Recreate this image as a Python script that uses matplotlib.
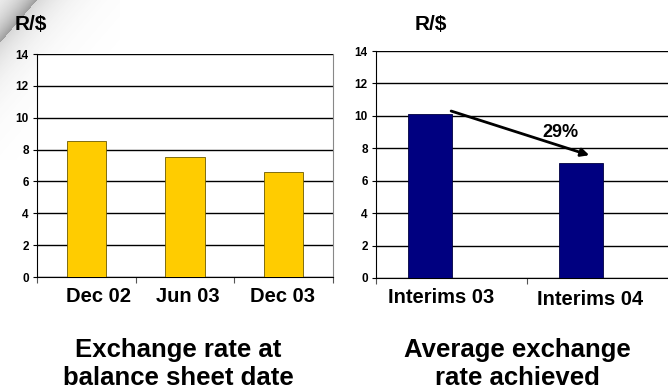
import numpy as np
import matplotlib
matplotlib.use("Agg")
import matplotlib.pyplot as plt

plt.rcParams['font.family'] = ['Liberation Sans', 'DejaVu Sans']
plt.rcParams['font.weight'] = 'bold'

# ---------------------------------------------------------------- data
balance_dates = ['Dec 02', 'Jun 03', 'Dec 03']
balance_rates = [8.56, 7.51, 6.61]

interim_periods = ['Interims 03', 'Interims 04']
interim_rates = [10.1, 7.09]
interim_change = '29%'

yticks = [0, 2, 4, 6, 8, 10, 12, 14]

YELLOW = '#FFCC00'
NAVY = '#000080'

fig = plt.figure(figsize=(6.68, 3.90), dpi=100)

# ---------------------------------------------------------------- page curl shading, top-left corner
bg = fig.add_axes([0, 0, 1, 1], zorder=-10)
gx, gy = np.meshgrid(np.arange(0, 120) + 0.5, np.arange(0, 160) + 0.5)
d = (gx * 43 + gy * 37 - 37 * 43) / np.hypot(43, 37)
shade = np.where(d < 0, 0.55 * np.exp(d / 18.0), 0.22 * np.exp(-d / 22.0))
img = np.ones((160, 120, 4))
img[..., :3] = 0.3
img[..., 3] = np.clip(shade, 0, 1)
bg.imshow(img, extent=(0, 120, 160, 0), interpolation='bilinear', aspect='auto')
bg.set_xlim(0, 668)
bg.set_ylim(390, 0)
bg.axis('off')


def style_axes(ax):
    ax.set_ylim(0, 14)
    ax.set_yticks(yticks)
    ax.set_yticklabels([str(v) for v in yticks], fontsize=8.5, fontweight='bold')
    ax.yaxis.grid(True, color='black', lw=1.0)
    ax.set_axisbelow(True)
    ax.tick_params(axis='y', length=3, width=0.8, pad=3)
    ax.tick_params(axis='x', which='major', length=4, width=0.8, color='#555555', labelbottom=False)
    ax.tick_params(axis='x', which='minor', length=0, pad=7, labelsize=14.5)
    ax.spines['top'].set_visible(False)
    ax.spines['left'].set_color('black')
    ax.spines['bottom'].set_color('black')
    for lab in ax.get_xticklabels(minor=True):
        lab.set_fontweight('bold')


# ---------------------------------------------------------------- left: exchange rate at balance sheet date
ax1 = fig.add_axes([37 / 668, 1 - 277 / 390, 296 / 668, 223 / 390])
x1 = np.arange(len(balance_dates)) + 0.5
ax1.bar(x1, balance_rates, width=0.4, color=YELLOW, edgecolor='#6b5a00', lw=0.6, zorder=3)
ax1.set_xlim(0, 3)
ax1.set_xticks([0, 1, 2, 3])
ax1.set_xticks(x1 + np.array([0.12, 0.03, -0.01]), minor=True)
ax1.set_xticklabels(balance_dates, minor=True)
style_axes(ax1)
ax1.spines['right'].set_color('#888888')

# ---------------------------------------------------------------- right: average exchange rate achieved
ax2 = fig.add_axes([376 / 668, 1 - 278 / 390, 302 / 668, 227 / 390])
x2 = np.arange(len(interim_periods)) + 0.36
ax2.bar(x2, interim_rates, width=0.29, color=NAVY, edgecolor='#000040', lw=0.6, zorder=3)
ax2.set_xlim(0, 2)
ax2.set_xticks([0, 1, 2])
ax2.set_xticks(x2 + np.array([0.07, 0.06]), minor=True)
ax2.set_xticklabels(interim_periods, minor=True)
style_axes(ax2)
ax2.spines['right'].set_visible(False)
ax2.get_xticklabels(minor=True)[1].set_y(-0.012)

ax2.annotate('', xy=(1.43, interim_rates[1] + 0.43), xytext=(0.48, interim_rates[0] + 0.25),
             arrowprops=dict(arrowstyle='-|>', color='black', lw=2.0, mutation_scale=12),
             zorder=5)
ax2.text(1.22, 9.0, interim_change, fontsize=13, fontweight='bold', ha='center', va='center', zorder=6)

# ---------------------------------------------------------------- unit labels and captions
fig.text(15 / 668, 1 - 24 / 390, 'R/$', fontsize=15, fontweight='bold', va='center', ha='left')
fig.text(415 / 668, 1 - 25 / 390, 'R/$', fontsize=15, fontweight='bold', va='center', ha='left')

fig.text(178 / 668, 1 - 350 / 390, 'Exchange rate at', fontsize=18.5, fontweight='bold', ha='center', va='center')
fig.text(178 / 668, 1 - 378 / 390, 'balance sheet date', fontsize=18.5, fontweight='bold', ha='center', va='center')
fig.text(517 / 668, 1 - 350 / 390, 'Average exchange', fontsize=18.5, fontweight='bold', ha='center', va='center')
fig.text(517 / 668, 1 - 378 / 390, 'rate achieved', fontsize=18.5, fontweight='bold', ha='center', va='center')

fig.savefig('out.png', dpi=100)
